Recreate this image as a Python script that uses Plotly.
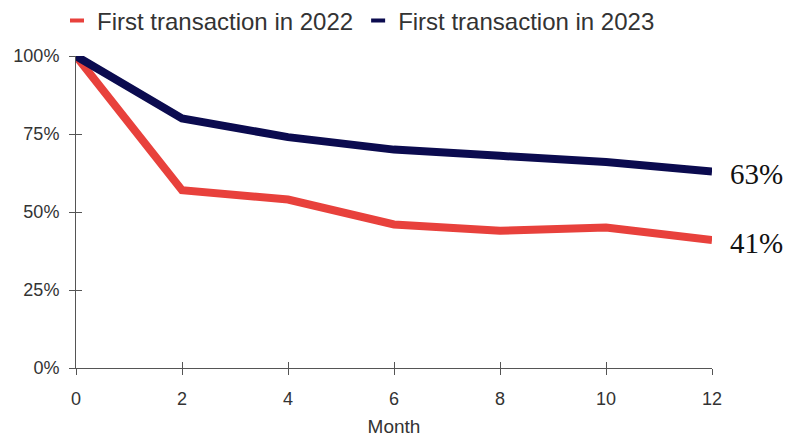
import plotly.graph_objects as go

months = [0, 2, 4, 6, 8, 10, 12]
first_2022 = [100, 57, 54, 46, 44, 45, 41]
first_2023 = [100, 80, 74, 70, 68, 66, 63]
series_names = ["First transaction in 2022", "First transaction in 2023"]
colors = ["#e8413c", "#0b0b4f"]
end_labels = ["41%", "63%"]
y_ticks = [0, 25, 50, 75, 100]
y_ticktext = ["0%", "25%", "50%", "75%", "100%"]

# page body has an 8px default margin; figure sized to fit the 791x437 window
W, H = 783, 429

fig = go.Figure()
for name, vals, col in zip(series_names, [first_2022, first_2023], colors):
    fig.add_trace(go.Scatter(x=months, y=vals, mode="lines", name=name,
                             line=dict(color=col, width=8), cliponaxis=False,
                             showlegend=False))
    fig.add_trace(go.Scatter(x=[None], y=[None], mode="markers", name=name,
                             marker=dict(symbol="line-ew", size=10, color=col,
                                         line=dict(color=col, width=4))))

fig.add_trace(go.Scatter(x=[months[0]], y=[y_ticks[0]], xaxis="x2", yaxis="y2",
                         mode="markers", marker=dict(opacity=0), showlegend=False,
                         hoverinfo="skip"))

for vals, lab in zip([first_2022, first_2023], end_labels):
    fig.add_annotation(x=months[-1], y=vals[-1], text=lab, showarrow=False,
                       xanchor="left", xshift=16, yshift=-3,
                       font=dict(family="Liberation Serif", size=29, color="#111"))

fig.update_layout(
    width=W, height=H,
    margin=dict(l=68, r=79, t=48, b=69, autoexpand=False),
    paper_bgcolor="white", plot_bgcolor="white",
    font=dict(family="Liberation Sans", color="#333"),
    legend=dict(orientation="h", x=49 / W, xanchor="left", xref="container",
                y=1 - 13 / H, yanchor="middle", yref="container",
                font=dict(size=24, color="#333"), itemwidth=30,
                bgcolor="rgba(0,0,0,0)"),
    showlegend=True,
)
axis_common = dict(showline=True, linecolor="#555", tickcolor="#555", linewidth=1,
                   showgrid=False, zeroline=False, automargin=False)
fig.update_xaxes(range=[0, 12], tickvals=months, ticks="outside", ticklen=6,
                 ticklabelstandoff=8,
                 tickfont=dict(size=18, color="#333"),
                 title=dict(text="Month", font=dict(size=19, color="#333"), standoff=14),
                 **axis_common)
fig.update_yaxes(range=[0, 100], tickvals=y_ticks, ticktext=y_ticktext,
                 ticks="outside", ticklen=6, ticklabelstandoff=6,
                 tickfont=dict(size=18, color="#333"),
                 **axis_common)
fig.update_layout(
    xaxis2=dict(overlaying="x", matches="x", side="bottom", tickvals=months,
                ticks="inside", ticklen=6, showticklabels=False, anchor="y",
                **axis_common),
    yaxis2=dict(overlaying="y", matches="y", side="left", tickvals=y_ticks,
                ticks="inside", ticklen=6, showticklabels=False, anchor="x",
                **axis_common),
)

fig.write_html("out.html")
